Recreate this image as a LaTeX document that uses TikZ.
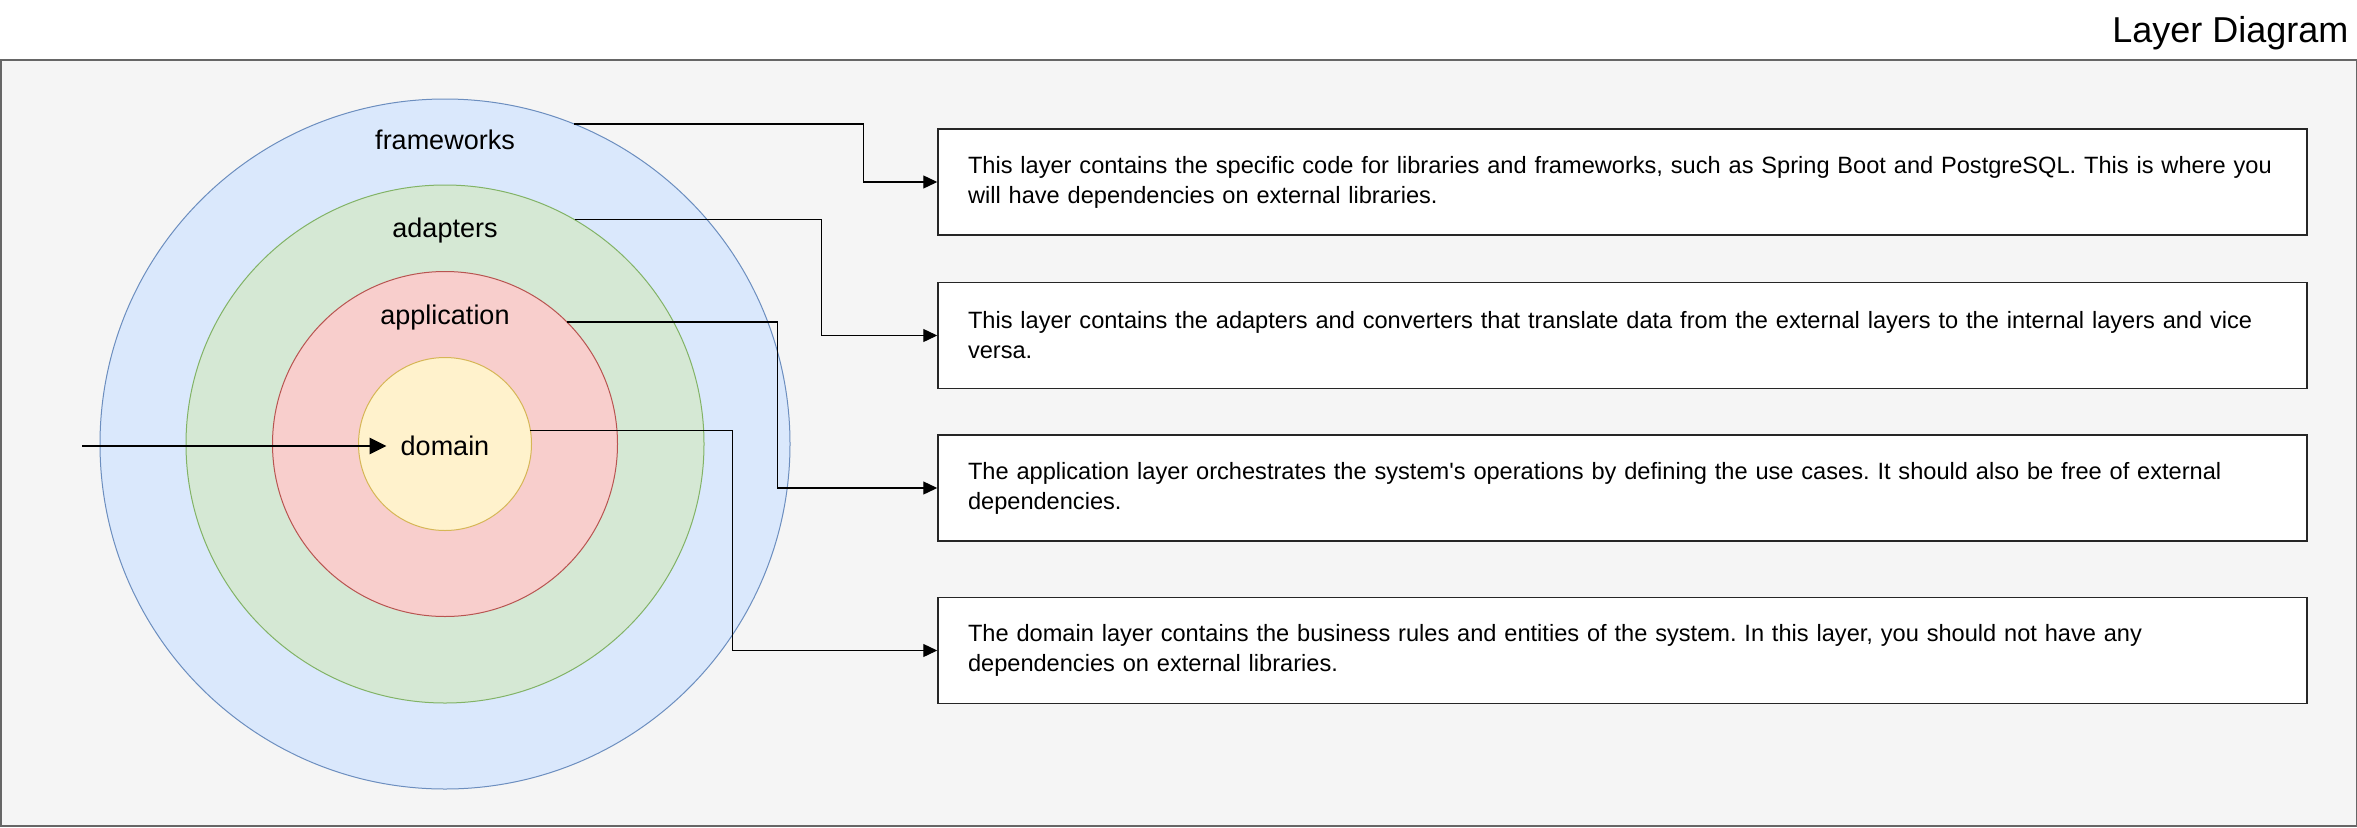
\documentclass[tikz,border=0pt]{standalone}
\usepackage{fontspec}
\setmainfont{Liberation Sans}[Ligatures=TeXOff]
\usetikzlibrary{arrows.meta, positioning, calc}

\definecolor{bgfill}{HTML}{F5F5F5}
\definecolor{bgline}{HTML}{666666}
\definecolor{fwfill}{HTML}{DAE8FC}
\definecolor{fwline}{HTML}{6C8EBF}
\definecolor{adfill}{HTML}{D5E8D4}
\definecolor{adline}{HTML}{82B366}
\definecolor{apfill}{HTML}{F8CECC}
\definecolor{apline}{HTML}{B85450}
\definecolor{dofill}{HTML}{FFF2CC}
\definecolor{doline}{HTML}{D6B656}

\tikzset{
  layer/.style={circle, line width=1pt, inner sep=0pt, outer sep=0pt},
  lbl/.style={anchor=base, inner sep=0pt, font=\fontsize{27}{32}\selectfont},
  descbox/.style={draw=black!85, fill=white, line width=1.5pt, text width=1309pt,
    inner xsep=30pt, inner ysep=0pt, minimum height=106pt, align=left,
    font=\fontsize{23.6}{30}\selectfont\frenchspacing},
  conn/.style={line width=1.3pt, -{Triangle[length=14pt, width=13pt]}},
  entry/.style={line width=2.8pt, -{Triangle[length=17pt, width=16pt]}}
}

\begin{document}
\begin{tikzpicture}[x=1pt, y=-1pt]
\useasboundingbox (0,0) rectangle (2357,827);

% frame and title
\draw[fill=bgfill, draw=bgline, line width=1.5pt] (0.75,60) rectangle (2356.25,826);
\node[anchor=base east, font=\fontsize{36}{43}\selectfont] (title) at (2352,42) {Layer Diagram};

% layers
\node[layer, fill=fwfill, draw=fwline, minimum size=690pt] (fw) at (445,444) {};
\node[layer, fill=adfill, draw=adline, minimum size=518pt] (ad) at (445,444) {};
\node[layer, fill=apfill, draw=apline, minimum size=345pt] (ap) at (445,444) {};
\node[layer, fill=dofill, draw=doline, minimum size=173pt] (dom) at (445,444) {};

\node[lbl] (fwlbl) at (445,149) {frameworks};
\node[lbl] (adlbl) at (445,237) {adapters};
\node[lbl] (aplbl) at (445,324) {application};
\node[lbl] (domlbl) at (445,455) {domain};

% entry arrow
\coordinate (in) at (82,446);
\draw[entry, shorten >=14pt] (in) -- (in -| domlbl.west);

% descriptions
\node[descbox] (d1) at (1622.5,182) {This layer contains the specific code for libraries and frameworks, such as Spring Boot and PostgreSQL. This is where you\\will have dependencies on external libraries.};
\node[descbox] (d2) at (1622.5,335.5) {This layer contains the adapters and converters that translate data from the external layers to the internal layers and vice\\versa.};
\node[descbox] (d3) at (1622.5,488) {The application layer orchestrates the system's operations by defining the use cases. It should also be free of external\\dependencies.};
\node[descbox] (d4) at (1622.5,650.5) {The domain layer contains the business rules and entities of the system. In this layer, you should not have any\\dependencies on external libraries.};

% connectors
\draw[conn] (fw.68) -| ($(d1.west)+(-74,0)$) -- (d1.west);
\draw[conn] (ad.60) -| ($(d2.west)+(-116,0)$) -- (d2.west);
\draw[conn] (ap.45) -| ($(d3.west)+(-160,0)$) -- (d3.west);
\draw[conn] (dom.9.5) -| ($(d4.west)+(-205,0)$) -- (d4.west);
\end{tikzpicture}
\end{document}
